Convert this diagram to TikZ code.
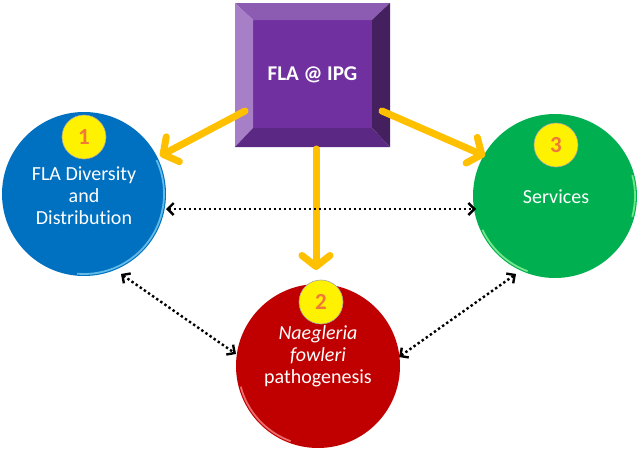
\documentclass[tikz,border=0pt]{standalone}
\usepackage{fontspec}
\setmainfont{Carlito}[Ligatures=NoCommon]
\usetikzlibrary{arrows.meta}
\definecolor{face}{HTML}{7030A0}
\definecolor{bevtop}{HTML}{8C5BB2}
\definecolor{bevleft}{HTML}{A77FC6}
\definecolor{bevright}{HTML}{45205F}
\definecolor{bevbot}{HTML}{5B2884}
\definecolor{cblue}{HTML}{0070C0}
\definecolor{cred}{HTML}{C00000}
\definecolor{cgreen}{HTML}{00B050}
\definecolor{orarrow}{HTML}{FFC000}
\definecolor{numcol}{HTML}{F07838}
\tikzset{
  bigc/.style={circle, minimum size=164pt, inner sep=0pt},
  numc/.style={circle, minimum size=44pt, inner sep=0pt, fill=yellow, draw=gray!70, line width=0.6pt,
    font=\fontsize{23}{23}\selectfont\bfseries, text=numcol},
  ctext/.style={align=center, text=white, font=\fontsize{20}{22}\selectfont},
  orarr/.style={draw=orarrow, line width=7pt, line cap=round, line join=round,
    -{Straight Barb[length=11pt, width=28pt, line cap=round, line join=round]}},
  dotarr/.style={draw=black, line width=2.4pt, dash pattern={on 2.4pt off 2.6pt},
    {Straight Barb[length=6pt, width=12pt]}-{Straight Barb[length=6pt, width=12pt]}},
  rim/.style={line width=1.8pt, opacity=0.7}
}
\begin{document}
\begin{tikzpicture}[x=1pt,y=-1pt]
\useasboundingbox (0,0) rectangle (643,450);
% purple beveled box
\coordinate (o1) at (235,3); \coordinate (o2) at (390,3);
\coordinate (o3) at (390,147); \coordinate (o4) at (235,147);
\coordinate (i1) at (253,20); \coordinate (i2) at (372,20);
\coordinate (i3) at (372,128); \coordinate (i4) at (253,128);
\fill[face] (i1) rectangle (i3);
\fill[bevtop] (o1) -- (o2) -- (i2) -- (i1) -- cycle;
\fill[bevleft] (o1) -- (i1) -- (i4) -- (o4) -- cycle;
\fill[bevright] (o2) -- (o3) -- (i3) -- (i2) -- cycle;
\fill[bevbot] (o4) -- (i4) -- (i3) -- (o3) -- cycle;
\node[text=white, font=\fontsize{21}{22}\selectfont\bfseries] (box) at (312.5,75) {FLA @ IPG};
% circles
\node[bigc, fill=cblue] (c1) at (84,194) {};
\node[bigc, fill=cred] (c2) at (318,366) {};
\node[bigc, fill=cgreen] (c3) at (555,196) {};
\draw[rim, cyan!45!white] (c1.center) ++(-25:80) arc[start angle=-25, end angle=95, radius=80];
\draw[rim, red!40!white] (c2.center) ++(110:80) arc[start angle=110, end angle=165, radius=80];
\draw[rim, green!35!white] (c3.center) ++(110:80) arc[start angle=110, end angle=155, radius=80];
\draw[rim, green!40!white] (c3.center) ++(-15:80) arc[start angle=-15, end angle=15, radius=80];
% numbers
\node[numc] (n1) at (84,137) {1};
\node[numc] (n2) at (321,302) {2};
\node[numc] (n3) at (556,145) {3};
% texts
\node[ctext] (t1) at (84,196) {FLA Diversity\\and\\Distribution};
\node[ctext] (t2) at (318,356) {\itshape Naegleria\\\itshape fowleri\\pathogenesis};
\node[ctext] (t3) at (556,197) {Services};
% orange arrows
\coordinate (a1s) at (245,111); \coordinate (a1e) at (160,156);
\coordinate (a2s) at (316,149); \coordinate (a2e) at (316,270);
\coordinate (a3s) at (382,111); \coordinate (a3e) at (485,156);
\draw[orarr] (a1s) -- (a1e);
\draw[orarr] (a2s) -- (a2e);
\draw[orarr] (a3s) -- (a3e);
% dotted double arrows
\coordinate (d1a) at (166,209); \coordinate (d1b) at (476,209);
\coordinate (d2a) at (121,274); \coordinate (d2b) at (236,354);
\coordinate (d3a) at (399,357); \coordinate (d3b) at (516,274);
\draw[dotarr] (d1a) -- (d1b);
\draw[dotarr] (d2a) -- (d2b);
\draw[dotarr] (d3a) -- (d3b);
\end{tikzpicture}
\end{document}
